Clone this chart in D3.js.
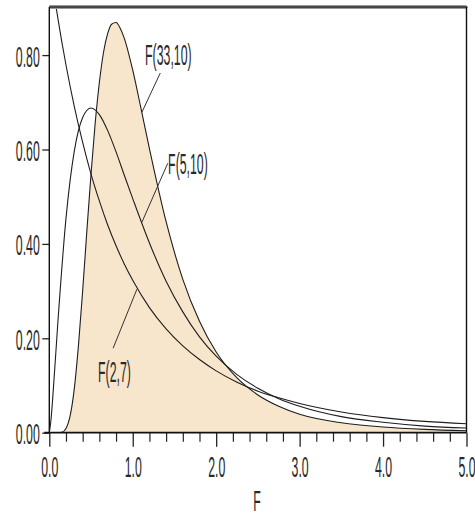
<!DOCTYPE html>
<html>
<head>
<meta charset="utf-8">
<script src="https://cdn.jsdelivr.net/npm/d3@7"></script>
<style>
  html, body { margin: 0; padding: 0; background: #fff; }
  svg { display: block; }
  text { font-family: "Liberation Sans", Arial, sans-serif; fill: #2a2a2a; }
</style>
</head>
<body>
<svg id="chart" width="475" height="517"></svg>
<script>
// ---- data ----
const xF33 = [0, 0.1, 0.15, 0.2, 0.25, 0.3, 0.35, 0.4, 0.45, 0.5, 0.55, 0.6, 0.65, 0.7, 0.75, 0.8, 0.85, 0.9, 1.0, 1.1, 1.2, 1.4, 1.6, 1.8, 2.0, 2.25, 2.5, 2.75, 3.0, 3.5, 4.0, 4.5, 5.0];
const yF33 = [0, 0.000, 0.001, 0.009, 0.036, 0.094, 0.186, 0.301, 0.427, 0.548, 0.656, 0.742, 0.806, 0.846, 0.866, 0.869, 0.857, 0.835, 0.768, 0.686, 0.602, 0.447, 0.325, 0.236, 0.171, 0.116, 0.080, 0.056, 0.039, 0.021, 0.012, 0.007, 0.004];

const xF510 = [0, 0.02, 0.05, 0.1, 0.2, 0.3, 0.4, 0.5, 0.6, 0.7, 0.8, 0.9, 1.0, 1.2, 1.4, 1.6, 1.8, 2.0, 2.25, 2.5, 2.75, 3.0, 3.5, 4.0, 4.5, 5.0];
const yF510 = [0, 0.027, 0.096, 0.227, 0.454, 0.597, 0.668, 0.688, 0.674, 0.640, 0.595, 0.545, 0.496, 0.402, 0.321, 0.256, 0.203, 0.162, 0.123, 0.094, 0.072, 0.056, 0.034, 0.022, 0.014, 0.010];

const xF27 = [0, 0.1, 0.2, 0.3, 0.4, 0.5, 0.6, 0.7, 0.8, 0.9, 1.0, 1.2, 1.4, 1.6, 1.8, 2.0, 2.25, 2.5, 2.75, 3.0, 3.5, 4.0, 4.5, 5.0];
const yF27 = [1.000, 0.881, 0.779, 0.691, 0.615, 0.548, 0.491, 0.440, 0.396, 0.357, 0.323, 0.265, 0.220, 0.184, 0.155, 0.131, 0.107, 0.088, 0.074, 0.062, 0.044, 0.032, 0.024, 0.019];

const seriesNames = ["F(33,10)", "F(5,10)", "F(2,7)"];
const yTickValues = [0, 0.2, 0.4, 0.6, 0.8];
const xTickValues = [0, 1, 2, 3, 4, 5];
const xMinorTickValues = [0.2, 0.4, 0.6, 0.8, 1.2, 1.4, 1.6, 1.8, 2.2, 2.4, 2.6, 2.8, 3.2, 3.4, 3.6, 3.8, 4.2, 4.4, 4.6, 4.8];
const xTitle = "F";

// label anchors (data coordinates): [curve point x, curve point y, line end x, line end y, text x, text y]
const labelAnchors = [
  [1.11, 0.679, 1.33, 0.762, 1.148, 0.778],
  [1.11, 0.446, 1.42, 0.571, 1.424, 0.548],
  [1.05, 0.304, 0.765, 0.179, 0.584, 0.107]
];

// ---- layout ----
const svg = d3.select("#chart");
const mLeft = 49.3, mRight = 466.5, mBottom = 432.7, mTop = 7;
const x = d3.scaleLinear().domain([0, 5]).range([mLeft, mRight]);
const y = d3.scaleLinear().domain([0, 1]).range([mBottom, mBottom - 472]);
const sy = 2.4;
const fs = 12.3;

const toPts = (xs, ys) => xs.map((v, i) => [v, ys[i]]);
const d33 = toPts(xF33, yF33), d510 = toPts(xF510, yF510), d27 = toPts(xF27, yF27);

svg.append("defs").append("clipPath").attr("id", "clip")
  .append("rect").attr("x", mLeft).attr("y", mTop).attr("width", mRight - mLeft).attr("height", mBottom - mTop);

const plot = svg.append("g").attr("clip-path", "url(#clip)");

const area = d3.area().x(d => x(d[0])).y0(y(0)).y1(d => y(d[1])).curve(d3.curveMonotoneX);
const line = d3.line().x(d => x(d[0])).y(d => y(d[1])).curve(d3.curveMonotoneX);

plot.append("path").datum(d33).attr("d", area).attr("fill", "#F7E5CC");
[d33, d510, d27].forEach(d => {
  plot.append("path").datum(d).attr("d", line)
    .attr("fill", "none").attr("stroke", "#1e1e1e").attr("stroke-width", 1.1);
});

// ---- axes ----
const yAxis = d3.axisLeft(y).tickValues(yTickValues).tickSize(7).tickSizeOuter(0).tickFormat(d3.format(".2f"));
const gy = svg.append("g").attr("transform", `translate(${mLeft},0)`).call(yAxis);
gy.select(".domain").remove();
gy.selectAll(".tick line").attr("stroke", "#222").attr("stroke-width", 1.3);
gy.selectAll(".tick text")
  .attr("x", 0).attr("dy", null)
  .attr("transform", `translate(-9.5,11) scale(1,${sy})`)
  .attr("text-anchor", "end")
  .style("font-size", fs + "px").style("font-family", "'Liberation Sans', Arial, sans-serif").attr("fill", "#2a2a2a");

const xMinor = d3.axisBottom(x).tickValues(xMinorTickValues).tickSize(9).tickSizeOuter(0).tickFormat("");
const gxm = svg.append("g").attr("transform", `translate(0,${mBottom})`).call(xMinor);
gxm.select(".domain").remove();
gxm.selectAll(".tick line").attr("stroke", "#222").attr("stroke-width", 1.2);

const xAxis = d3.axisBottom(x).tickValues(xTickValues).tickSize(14).tickSizeOuter(0).tickFormat(d3.format(".1f"));
const gx = svg.append("g").attr("transform", `translate(0,${mBottom})`).call(xAxis);
gx.select(".domain").remove();
gx.selectAll(".tick line").attr("stroke", "#222").attr("stroke-width", 1.3);
gx.selectAll(".tick text")
  .attr("y", 0).attr("dy", null)
  .attr("transform", `translate(0,44.3) scale(1,${sy})`)
  .attr("text-anchor", "middle")
  .style("font-size", fs + "px").style("font-family", "'Liberation Sans', Arial, sans-serif").attr("fill", "#2a2a2a");

// frame lines
svg.append("line").attr("x1", mLeft).attr("x2", mRight).attr("y1", mTop).attr("y2", mTop)
  .attr("stroke", "#9a9a9a").attr("stroke-width", 4);
svg.append("line").attr("x1", mLeft).attr("x2", mRight + 1).attr("y1", mTop).attr("y2", mTop)
  .attr("stroke", "#2a2a2a").attr("stroke-width", 1.6);
svg.append("line").attr("x1", mRight).attr("x2", mRight).attr("y1", mTop).attr("y2", mBottom)
  .attr("stroke", "#111").attr("stroke-width", 1.4);
svg.append("line").attr("x1", mLeft).attr("x2", mLeft).attr("y1", mTop).attr("y2", mBottom)
  .attr("stroke", "#111").attr("stroke-width", 1.4);
svg.append("line").attr("x1", mLeft - 5).attr("x2", mRight).attr("y1", mBottom).attr("y2", mBottom)
  .attr("stroke", "#111").attr("stroke-width", 1.8);

// x title
svg.append("g").attr("transform", `translate(${(mLeft + mRight) / 2 - 1},511) scale(1,${sy})`)
  .append("text").attr("text-anchor", "middle").style("font-size", fs + "px").text(xTitle);

// curve labels
labelAnchors.forEach((a, i) => {
  svg.append("line")
    .attr("x1", x(a[0])).attr("y1", y(a[1])).attr("x2", x(a[2])).attr("y2", y(a[3]))
    .attr("stroke", "#333").attr("stroke-width", 1);
  svg.append("g").attr("transform", `translate(${x(a[4])},${y(a[5])}) scale(1,${sy})`)
    .append("text").attr("text-anchor", "start").style("font-size", fs + "px").text(seriesNames[i]);
});
</script>
</body>
</html>
